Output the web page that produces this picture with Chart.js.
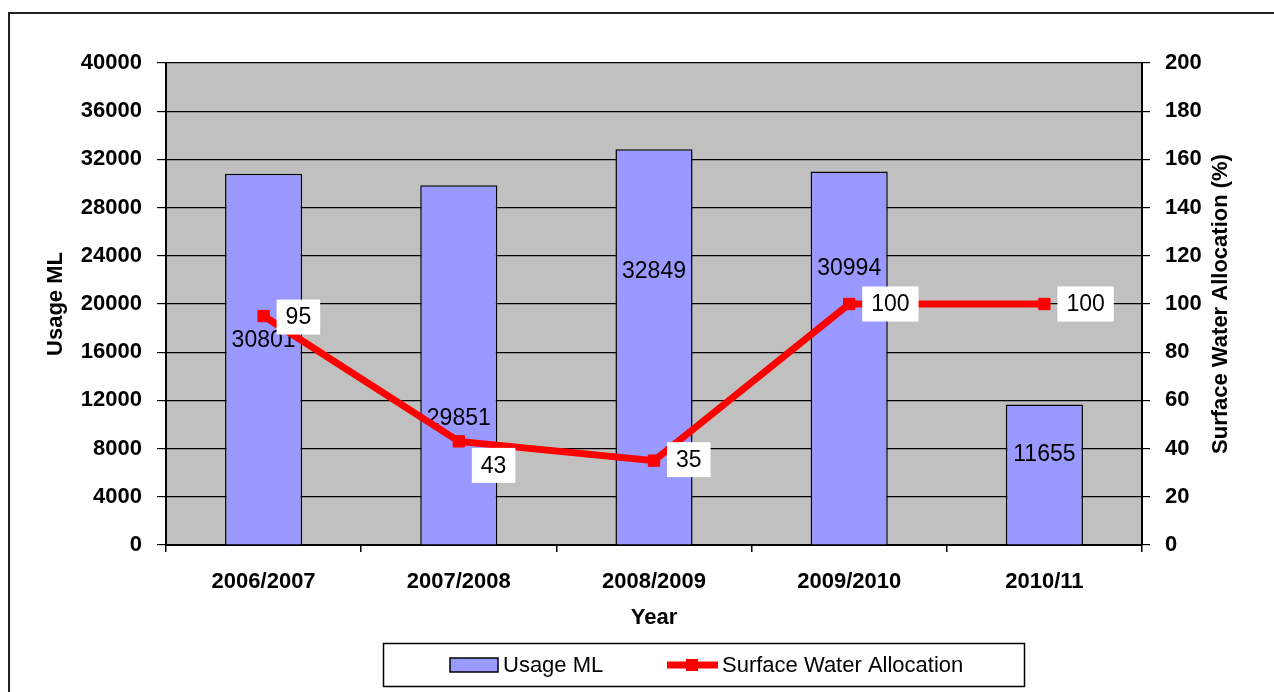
<!DOCTYPE html>
<html>
<head>
<meta charset="utf-8">
<title>Usage ML</title>
<script src="https://cdn.jsdelivr.net/npm/chart.js@4/dist/chart.umd.min.js"></script>
<style>
  html, body { margin: 0; padding: 0; background: #fff; }
  canvas { display: block; }
</style>
</head>
<body>
<canvas id="grafico" width="1274" height="692"></canvas>
<script>
// dados
const anos = ["2006/2007", "2007/2008", "2008/2009", "2009/2010", "2010/11"];
const usoML = [30801, 29851, 32849, 30994, 11655];
const alocacao = [95, 43, 35, 100, 100];

const FONTE = "'Liberation Sans', Arial, sans-serif";
const COR_BARRA = "#9999FF";
const COR_LINHA = "#FF0000";

// moldura externa + fundo cinza da area do grafico
const fundoPlugin = {
  id: "fundo",
  beforeDraw(chart) {
    const ctx = chart.ctx;
    const a = chart.chartArea;
    ctx.save();
    ctx.fillStyle = "#fff";
    ctx.fillRect(0, 0, chart.width, chart.height);
    ctx.strokeStyle = "#222";
    ctx.lineWidth = 2;
    ctx.strokeRect(9, 13, chart.width + 20, chart.height + 20);
    ctx.fillStyle = "#C0C0C0";
    ctx.fillRect(a.left, a.top, a.right - a.left, a.bottom - a.top);
    ctx.restore();
  },
};

// rotulos das barras (desenhados antes da linha)
const rotulosPlugin = {
  id: "rotulos",
  afterDatasetDraw(chart, args, opts) {
    if (args.index !== 0) return;
    const ctx = chart.ctx;
    ctx.save();
    ctx.font = "23px " + FONTE;
    ctx.fillStyle = "#000";
    ctx.textAlign = "center";
    ctx.textBaseline = "middle";
    args.meta.data.forEach((bar, i) => {
      const y = bar.base - opts.fracBarra[i] * (bar.base - bar.y);
      ctx.fillText(usoML[i].toString(), bar.x, y);
    });
    ctx.restore();
  },
  afterDatasetsDraw(chart, args, opts) {
    const ctx = chart.ctx;
    const meta = chart.getDatasetMeta(1);
    ctx.save();
    ctx.font = "23px " + FONTE;
    ctx.textBaseline = "middle";
    ctx.textAlign = "left";
    meta.data.forEach((pt, i) => {
      const txt = alocacao[i].toString();
      const w = ctx.measureText(txt).width + 18;
      const x = pt.x + 13;
      const y = pt.y + opts.dyLinha[i];
      ctx.fillStyle = "#fff";
      ctx.fillRect(x, y - 17.5, w, 35);
      ctx.fillStyle = "#000";
      ctx.fillText(txt, x + 9, y + 1);
    });

    // titulo do eixo direito (lido de baixo para cima)
    const y1 = chart.scales.y1;
    ctx.translate(1221, (y1.top + y1.bottom) / 2);
    ctx.rotate(-Math.PI / 2);
    ctx.font = "bold 22px " + FONTE;
    ctx.textAlign = "center";
    ctx.fillText("Surface Water Allocation (%)", 0, 0);
    ctx.restore();
  },
};

// legenda com caixa
const legendaPlugin = {
  id: "legendaCaixa",
  afterDraw(chart) {
    const ctx = chart.ctx;
    const ds = chart.data.datasets;
    ctx.save();
    ctx.fillStyle = "#fff";
    ctx.fillRect(383, 643, 641, 43);
    ctx.strokeStyle = "#000";
    ctx.lineWidth = 1.5;
    ctx.strokeRect(383.5, 643.5, 641, 43);
    const cy = 665;

    ctx.fillStyle = ds[0].backgroundColor;
    ctx.fillRect(450, cy - 7, 48, 14);
    ctx.lineWidth = 1.5;
    ctx.strokeRect(450, cy - 7, 48, 14);

    ctx.strokeStyle = ds[1].borderColor;
    ctx.lineWidth = 7;
    ctx.beginPath();
    ctx.moveTo(667, cy);
    ctx.lineTo(718, cy);
    ctx.stroke();
    ctx.fillStyle = ds[1].borderColor;
    ctx.fillRect(686, cy - 6, 12, 12);

    ctx.fillStyle = "#000";
    ctx.font = "22px " + FONTE;
    ctx.textBaseline = "middle";
    ctx.textAlign = "left";
    ctx.fillText(ds[0].label, 503, cy + 1);
    ctx.fillText(ds[1].label, 722, cy + 1);
    ctx.restore();
  },
};

const grafico = new Chart(document.getElementById("grafico"), {
  type: "bar",
  data: {
    labels: anos,
    datasets: [
      {
        label: "Usage ML",
        data: usoML,
        backgroundColor: COR_BARRA,
        borderColor: "#000",
        borderWidth: 1.5,
        categoryPercentage: 1,
        barPercentage: 0.395,
        yAxisID: "y",
        order: 1,
      },
      {
        type: "line",
        label: "Surface Water Allocation",
        data: alocacao,
        borderColor: COR_LINHA,
        backgroundColor: COR_LINHA,
        borderWidth: 7,
        pointStyle: "rect",
        pointRadius: 8,
        pointBorderWidth: 1,
        pointBackgroundColor: COR_LINHA,
        pointBorderColor: COR_LINHA,
        tension: 0,
        yAxisID: "y1",
        order: 0,
      },
    ],
  },
  options: {
    responsive: false,
    animation: false,
    devicePixelRatio: 1,
    layout: {
      padding: { left: 0, right: 0, top: 63, bottom: 61 },
    },
    plugins: {
      legend: { display: false },
      tooltip: { enabled: false },
      rotulos: {
        fracBarra: [0.55, 0.35, 0.69, 0.74, 0.64],
        dyLinha: [1, 24, -1, 0, 0],
      },
    },
    scales: {
      x: {
        grid: {
          display: true,
          drawOnChartArea: false,
          drawTicks: true,
          tickLength: 7,
          color: "#000",
          lineWidth: 1.5,
        },
        border: { color: "#000", width: 2 },
        ticks: {
          color: "#000",
          padding: 17,
          font: { family: FONTE, size: 22, weight: "bold" },
        },
        title: {
          display: true,
          text: "Year",
          color: "#000",
          padding: { top: 0, bottom: 0 },
          font: { family: FONTE, size: 22, weight: "bold" },
        },
        afterFit(scale) {
          scale.height = 86;
        },
      },
      y: {
        position: "left",
        min: 0,
        max: 40000,
        grid: {
          color: "#000",
          lineWidth: 1.2,
          tickLength: 9,
        },
        border: { color: "#000", width: 2 },
        ticks: {
          stepSize: 4000,
          color: "#000",
          padding: 15,
          font: { family: FONTE, size: 22, weight: "bold" },
          callback: (v) => String(v),
        },
        title: {
          display: true,
          text: "Usage ML",
          color: "#000",
          padding: { top: 43, bottom: 0 },
          font: { family: FONTE, size: 22, weight: "bold" },
        },
        afterFit(scale) {
          scale.width = 166;
        },
      },
      y1: {
        position: "right",
        min: 0,
        max: 200,
        grid: {
          drawOnChartArea: false,
          color: "#000",
          lineWidth: 1.2,
          tickLength: 8,
        },
        border: { color: "#000", width: 2 },
        ticks: {
          stepSize: 20,
          color: "#000",
          padding: 15,
          font: { family: FONTE, size: 22, weight: "bold" },
          callback: (v) => String(v),
        },
        afterFit(scale) {
          scale.width = 132;
        },
      },
    },
  },
  plugins: [fundoPlugin, rotulosPlugin, legendaPlugin],
});
</script>
</body>
</html>
